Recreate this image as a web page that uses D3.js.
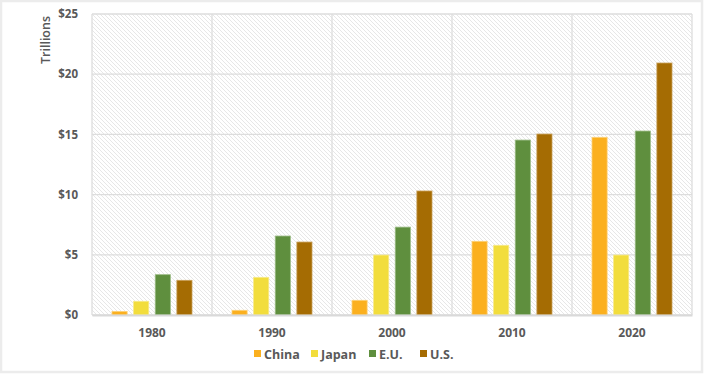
<!DOCTYPE html>
<html><head><meta charset="utf-8">
<script src="https://cdn.jsdelivr.net/npm/d3@7"></script>
<style>body{margin:0;background:#fff}svg{display:block}text{font-family:"Open Sans",Lato,sans-serif;fill:#595959}</style>
</head><body><svg id="c" width="704" height="374"></svg>
<script>
const categories = ["1980","1990","2000","2010","2020"];
const seriesNames = ["China","Japan","E.U.","U.S."];
const china = [0.3,0.39,1.22,6.12,14.76];
const japan = [1.14,3.13,4.98,5.79,4.98];
const eu = [3.35,6.56,7.3,14.53,15.28];
const us = [2.88,6.06,10.3,15.03,20.93];
const yTicks = [0,5,10,15,20,25];
const colors = ["#FBB01F","#F2DD3C","#5F8F3E","#A56C03"];
const strokes = ["#FDD27A","#F7EA8A","#9CBC86","#C9A05A"];
const values = [china,japan,eu,us];

const svg = d3.select("#c");
const m = {l:92,r:12,t:14,b:59};
const W = 704, H = 374;
const pw = W-m.l-m.r, ph = H-m.t-m.b;

svg.append("rect").attr("x",1).attr("y",1).attr("width",W-3).attr("height",H-3)
  .attr("fill","#fff").attr("stroke","#ececec").attr("stroke-width",2.5);

const defs = svg.append("defs");
const pat = defs.append("pattern").attr("id","hatch").attr("patternUnits","userSpaceOnUse")
  .attr("width",4).attr("height",4);
pat.append("rect").attr("width",4).attr("height",4).attr("fill","#fff");
pat.append("path").attr("d","M-1,-1 L5,5 M-1,3 L1,5 M3,-1 L5,1").attr("stroke","#dcdcdc").attr("stroke-width",0.7);

const g = svg.append("g").attr("transform",`translate(${m.l},${m.t})`);
const x0 = d3.scaleBand().domain(categories).range([0,pw]).paddingInner(0).paddingOuter(0);
const x1 = d3.scaleBand().domain(seriesNames).range([20,x0.bandwidth()-20]).paddingInner(0.3);
const y = d3.scaleLinear().domain([0,25]).range([ph,0]);

g.append("rect").attr("width",pw).attr("height",ph).attr("fill","url(#hatch)");

// gridlines
g.selectAll(".hg").data(yTicks).join("line")
  .attr("x1",0).attr("x2",pw).attr("y1",d=>y(d)).attr("y2",d=>y(d))
  .attr("stroke","#dddddd").attr("stroke-width",1.3);
g.selectAll(".vg").data(categories.concat(["end"])).join("line")
  .attr("x1",(d,i)=>i*x0.bandwidth()).attr("x2",(d,i)=>i*x0.bandwidth())
  .attr("y1",0).attr("y2",ph).attr("stroke","#dddddd").attr("stroke-width",1.3);

// bars
categories.forEach((c,ci)=>{
  seriesNames.forEach((s,si)=>{
    const v = values[si][ci];
    g.append("rect").attr("x",x0(c)+x1(s)).attr("width",x1.bandwidth())
      .attr("y",y(v)).attr("height",ph-y(v))
      .attr("fill",colors[si]).attr("stroke",strokes[si]).attr("stroke-width",0.8);
  });
});

// axes
const ya = g.append("g").call(d3.axisLeft(y).tickValues(yTicks).tickSize(0).tickPadding(14).tickFormat(d=>"$"+d));
ya.select(".domain").remove();
ya.selectAll("text").attr("font-size",11.5).attr("font-weight","bold").style("fill","#595959");

const xa = g.append("g").attr("transform",`translate(0,${ph})`)
  .call(d3.axisBottom(x0).tickSize(0).tickPadding(13));
xa.select(".domain").attr("stroke","#d9d9d9").attr("stroke-width",2);
xa.selectAll("text").attr("font-size",12).attr("font-weight","bold").style("fill","#595959");

svg.append("text").attr("transform","translate(50,40) rotate(-90)")
  .attr("text-anchor","middle").attr("font-size",12.5).attr("font-weight","600").text("Trillions");

// legend
const legX = [254,311,369,420];
const leg = svg.append("g");
seriesNames.forEach((s,i)=>{
  leg.append("rect").attr("x",legX[i]).attr("y",350).attr("width",7).attr("height",7).attr("fill",colors[i]);
  leg.append("text").attr("x",legX[i]+10).attr("y",358.5).attr("font-size",12.5).attr("font-weight","bold").text(s);
});
</script></body></html>
